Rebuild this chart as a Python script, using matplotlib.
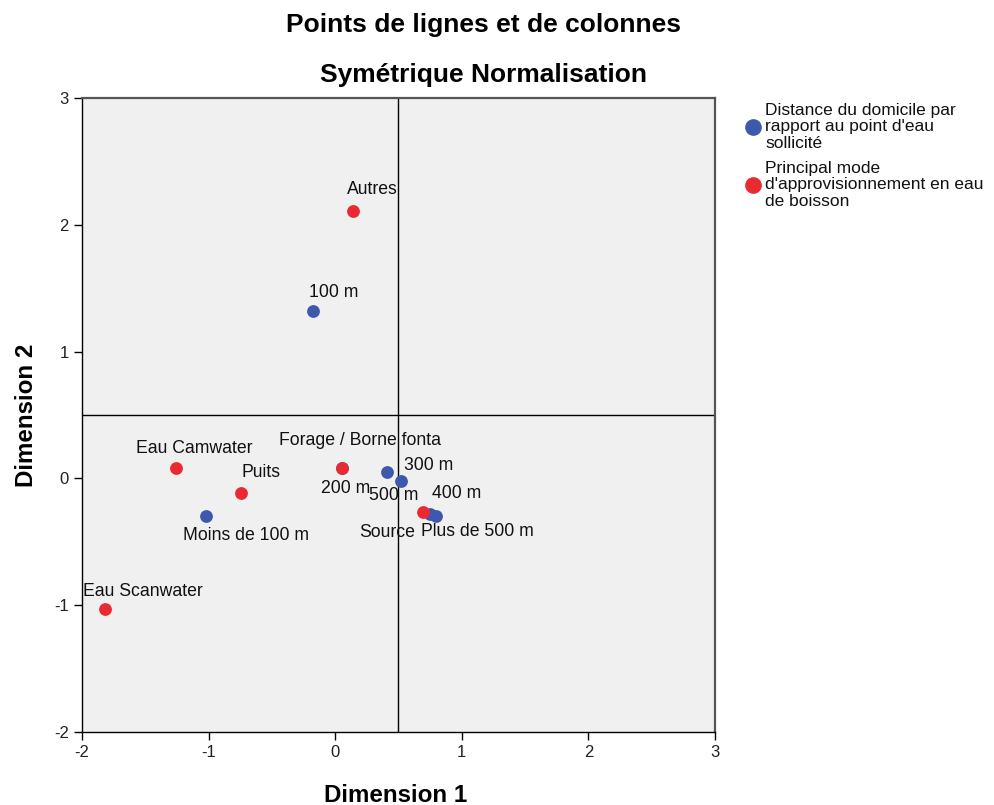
import matplotlib
matplotlib.use("Agg")
import matplotlib.pyplot as plt
from matplotlib.lines import Line2D

plt.rcParams['font.family'] = ['Liberation Sans', 'DejaVu Sans']
plt.rcParams['axes.unicode_minus'] = False

# Row points: Distance du domicile par rapport au point d'eau sollicité
row_labels = ["100 m", "Moins de 100 m", "200 m", "300 m", "500 m", "400 m", "Plus de 500 m"]
row_x = [-0.173, -1.021, 0.050, 0.407, 0.517, 0.749, 0.796]
row_y = [1.320, -0.297, 0.082, 0.053, -0.018, -0.283, -0.294]

# Column points: Principal mode d'approvisionnement en eau de boisson
col_labels = ["Autres", "Eau Camwater", "Puits", "Forage / Borne fonta", "Source", "Eau Scanwater"]
col_x = [0.143, -1.260, -0.747, 0.056, 0.691, -1.821]
col_y = [2.111, 0.082, -0.113, 0.080, -0.267, -1.030]

legend_labels = ["Distance du domicile par\nrapport au point d'eau\nsollicité",
                 "Principal mode\nd'approvisionnement en eau\nde boisson"]
ref_x, ref_y = 0.5, 0.5
x_ticks = [-2, -1, 0, 1, 2, 3]
y_ticks = [-2, -1, 0, 1, 2, 3]

# label offsets in pixels (layout only)
row_off = {"100 m": (20, 19), "Moins de 100 m": (40, -19), "200 m": (4, -20),
           "300 m": (42, 6), "500 m": (-7, -15), "400 m": (27, 21),
           "Plus de 500 m": (41, -16)}
col_off = {"Autres": (19, 21), "Eau Camwater": (19, 20), "Puits": (20, 20),
           "Forage / Borne fonta": (18, 28), "Source": (-36, -20),
           "Eau Scanwater": (38, 18)}

blue = '#3e58ac'
red = '#ea2a32'

fig = plt.figure(figsize=(9.95, 8.05), dpi=100)
ax = fig.add_axes([82/995, 73/805, 633/995, 634/805])
ax.set_facecolor('#f0f0f0')
ax.set_xlim(-2, 3)
ax.set_ylim(-2, 3)
ax.set_xticks(x_ticks)
ax.set_yticks(y_ticks)
ax.tick_params(direction='out', length=6, width=1, labelsize=12, color='black',
               labelcolor='#222222')
for s in ax.spines.values():
    s.set_linewidth(1.0)
    s.set_color('black')
ax.spines['top'].set_color('#555555')
ax.spines['right'].set_color('#555555')
ax.spines['top'].set_linewidth(1.6)
ax.spines['right'].set_linewidth(1.6)

ax.axvline(ref_x, color='black', lw=1, zorder=1)
ax.axhline(ref_y, color='black', lw=1, zorder=1)

ax.scatter(row_x, row_y, s=85, color=blue, zorder=3, linewidths=0)
ax.scatter(col_x, col_y, s=85, color=red, zorder=4, linewidths=0)

for lab, x, y in zip(row_labels, row_x, row_y):
    dx, dy = row_off[lab]
    ax.annotate(lab, (x, y), xytext=(dx, dy), textcoords='offset pixels',
                ha='center', va='center', fontsize=12.7, zorder=5, color='#111111')
for lab, x, y in zip(col_labels, col_x, col_y):
    dx, dy = col_off[lab]
    t = ax.annotate(lab, (x, y), xytext=(dx, dy), textcoords='offset pixels',
                    ha='center', va='center', fontsize=12.7, zorder=5, color='#111111')
    t.set_clip_on(True)

fig.text(484/995, 1 - 25/805, "Points de lignes et de colonnes", ha='center', va='center',
         fontsize=19, fontweight='bold')
fig.text(484/995, 1 - 75/805, "Symétrique Normalisation", ha='center', va='center',
         fontsize=19, fontweight='bold')
fig.text(396/995, 1 - 795/805, "Dimension 1", ha='center', va='center',
         fontsize=17.4, fontweight='bold')
fig.text(27/995, 1 - 415/805, "Dimension 2", ha='center', va='center',
         fontsize=17.4, fontweight='bold', rotation=90)

# legend drawn manually
leg_y = [127, 185]
for lab, col, yy in zip(legend_labels, [blue, red], leg_y):
    fig.add_artist(Line2D([753/995], [1 - yy/805], marker='o', ls='', color=col,
                          markersize=11, transform=fig.transFigure))
    fig.text(765/995, 1 - yy/805, lab, ha='left', va='center', fontsize=12.5,
             linespacing=1.1, color='#111111')

fig.savefig('out.png', dpi=100)
